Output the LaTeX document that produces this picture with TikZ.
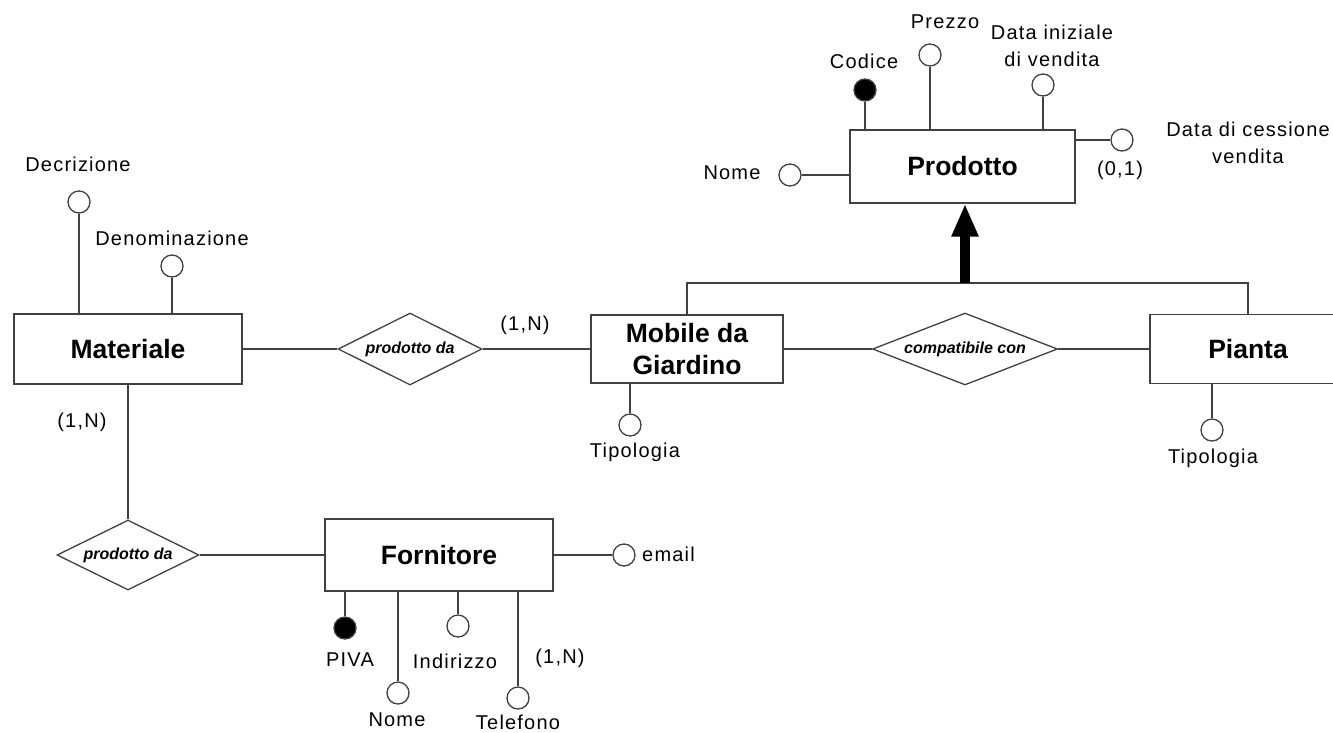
\documentclass[tikz,border=0pt]{standalone}
\usepackage{fontspec}
\setmainfont{Liberation Sans}
\usetikzlibrary{shapes.geometric,arrows.meta}
\begin{document}
\begin{tikzpicture}[x=1pt,y=-1pt,
 ln/.style={line width=1.3pt, draw=black!75},
 entity/.style={ln, rectangle, fill=white, inner sep=0pt, font=\fontsize{26.5}{32}\selectfont\bfseries, align=center},
 rel/.style={ln, diamond, aspect=2.6, inner sep=0pt, fill=white, font=\fontsize{16}{18}\selectfont\bfseries\itshape},
 attr/.style={ln, circle, minimum size=22pt, inner sep=0pt, fill=white},
 keyattr/.style={attr, fill=black},
 lbl/.style={font=\fontsize{20}{27}\selectfont\addfontfeatures{LetterSpace=6}, inner sep=0pt, align=center},
]
\useasboundingbox (0,0) rectangle (1333,732);
\clip (0,0) rectangle (1333,732);

% entities
\node[entity, minimum width=225pt, minimum height=73pt] (prod) at (962.5,166.5) {Prodotto};
\node[entity, minimum width=192pt, minimum height=68pt] (mob) at (687,349) {Mobile da\\Giardino};
\node[entity, minimum width=196pt, minimum height=69pt] (pianta) at (1248,349) {Pianta};
\node[entity, minimum width=228pt, minimum height=70pt] (mat) at (128,349) {Materiale};
\node[entity, minimum width=228pt, minimum height=72pt] (forn) at (439,555) {Fornitore};

% relationships
\node[rel, minimum width=144pt, minimum height=72pt] (r1) at (410,349) {prodotto da};
\node[rel, minimum width=185pt, minimum height=72pt] (r2) at (965,349) {compatibile con};
\node[rel, minimum width=142pt, minimum height=70pt] (r3) at (128,555) {prodotto da};

\draw[ln] (mat.east) -- (r1.west);
\draw[ln] (r1.east) -- (mob.west);
\draw[ln] (mob.east) -- (r2.west);
\draw[ln] (r2.east) -- (pianta.west);
\draw[ln] (mat.south) -- (r3.north);
\draw[ln] (r3.east) -- (forn.west);

\node[lbl] (c1) at (525,325) {(1,N)};
\node[lbl] (c2) at (82,422) {(1,N)};

% generalization
\coordinate (isa) at (965,283);
\draw[ln] (mob.north) -- (mob.north |- isa) -- (pianta.north |- isa) -- (pianta.north);
\draw[line width=10pt, -{Triangle[width=25pt,length=33pt]}] (isa) -- (isa |- prod.south);

% Prodotto attributes
\node[keyattr] (codice) at (865,90) {};
\draw[ln] (codice) -- (codice |- prod.north);
\node[lbl] (codiceL) at (864,61) {Codice};
\node[attr] (prezzo) at (930,55) {};
\draw[ln] (prezzo) -- (prezzo |- prod.north);
\node[lbl] (prezzoL) at (945,22) {Prezzo};
\node[attr] (dini) at (1043,85) {};
\draw[ln] (dini) -- (dini |- prod.north);
\node[lbl] (diniL) at (1052,46) {Data iniziale\\di vendita};
\node[attr] (dces) at (1122,140) {};
\draw[ln] (dces) -- (prod.east |- dces);
\node[lbl] (dcesC) at (1120,170) {(0,1)};
\node[lbl] (dcesL) at (1248,143) {Data di cessione\\vendita};
\node[attr] (pnome) at (790,175) {};
\draw[ln] (pnome) -- (prod.west |- pnome);
\node[lbl] (pnomeL) at (732,173) {Nome};

% Materiale attributes
\node[attr] (descr) at (79,202) {};
\draw[ln] (descr) -- (descr |- mat.north);
\node[lbl] (descrL) at (78,164) {Decrizione};
\node[attr] (denom) at (172,266) {};
\draw[ln] (denom) -- (denom |- mat.north);
\node[lbl] (denomL) at (172,238) {Denominazione};

% Tipologia
\node[attr] (mtip) at (630,425) {};
\draw[ln] (mtip) -- (mtip |- mob.south);
\node[lbl] (mtipL) at (635,452) {Tipologia};
\node[attr] (ptip) at (1212,430) {};
\draw[ln] (ptip) -- (ptip |- pianta.south);
\node[lbl] (ptipL) at (1213,458) {Tipologia};

% Fornitore attributes
\node[attr] (email) at (624,555) {};
\draw[ln] (email) -- (forn.east |- email);
\node[lbl, anchor=west] (emailL) at (642,554) {email};
\node[keyattr] (piva) at (345,628) {};
\draw[ln] (piva) -- (piva |- forn.south);
\node[lbl] (pivaL) at (350,660) {PIVA};
\node[attr] (fnome) at (398,693) {};
\draw[ln] (fnome) -- (fnome |- forn.south);
\node[lbl] (fnomeL) at (397,720) {Nome};
\node[attr] (ind) at (458,626) {};
\draw[ln] (ind) -- (ind |- forn.south);
\node[lbl] (indL) at (455,661) {Indirizzo};
\node[attr] (tel) at (518,698) {};
\draw[ln] (tel) -- (tel |- forn.south);
\node[lbl] (telL) at (518,722) {Telefono};
\node[lbl] (c3) at (560,658) {(1,N)};
\end{tikzpicture}
\end{document}
